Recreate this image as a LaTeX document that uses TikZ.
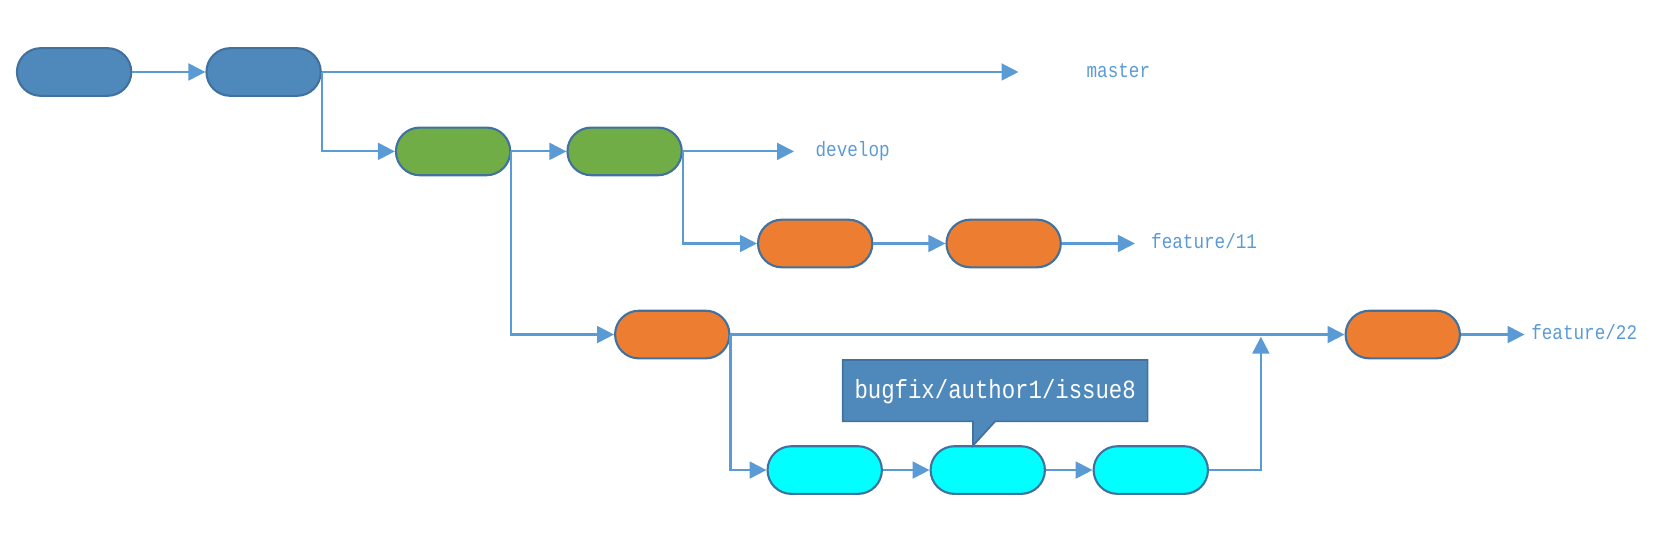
\documentclass[tikz,border=0pt]{standalone}
\usepackage{fontspec}
\newfontfamily\lblfont[FakeStretch=0.85]{Liberation Mono}
\usetikzlibrary{arrows.meta}
\definecolor{nblue}{HTML}{4F88BB}
\definecolor{nborder}{HTML}{41719C}
\definecolor{ngreen}{HTML}{70AD47}
\definecolor{norange}{HTML}{ED7D31}
\definecolor{ncyan}{HTML}{00FFFF}
\definecolor{lineblue}{HTML}{5B9BD5}
\tikzset{
  commit/.style={draw=nborder, line width=1pt, minimum width=54pt, minimum height=22.5pt, rounded corners=11.25pt, inner sep=0pt},
  conn/.style={draw=lineblue, line width=1pt, -{Triangle[length=8pt,width=8pt]}},
  plain/.style={draw=lineblue, line width=1pt},
  branchlbl/.style={anchor=base west, text=lineblue, font=\lblfont\fontsize{9.8pt}{11pt}\selectfont, inner sep=0pt},
}
\begin{document}
\begin{tikzpicture}[x=0.5pt,y=-0.5pt]
\useasboundingbox (0,0) rectangle (1568,509);
% commits
\node[commit, fill=nblue] (b1) at (70,68) {};
\node[commit, fill=nblue] (b2) at (249,68) {};
\node[commit, fill=ngreen] (g1) at (428,143) {};
\node[commit, fill=ngreen] (g2) at (590,143) {};
\node[commit, fill=norange] (o1) at (770,230) {};
\node[commit, fill=norange] (o2) at (948,230) {};
\node[commit, fill=norange] (o3) at (635,316) {};
\node[commit, fill=norange] (o4) at (1325,316) {};
\node[commit, fill=ncyan] (c1) at (779,444) {};
\node[commit, fill=ncyan] (c2) at (933,444) {};
\node[commit, fill=ncyan] (c3) at (1087,444) {};
% branch ends
\coordinate (mEnd) at (962,68);
\coordinate (dEnd) at (750,143);
\coordinate (f11End) at (1072,230);
\coordinate (f22End) at (1440,316);
\coordinate (mergeUp) at (1191,318);
% labels
\node[branchlbl] (lm) at (1026,73) {master};
\node[branchlbl] (ld) at (770,148) {develop};
\node[branchlbl] (lf11) at (1087,235) {feature/11};
\node[branchlbl] (lf22) at (1446,321) {feature/22};
% connectors
\draw[conn] (b1) -- (b2);
\draw[conn] (b2.east) -- (mEnd);
\draw[conn] (b2.east) |- (g1.west);
\draw[conn] (g1) -- (g2);
\draw[conn] (g2.east) -- (dEnd);
\draw[conn] (g2.east) |- (o1.west);
\draw[conn] (o1) -- (o2);
\draw[conn] (o2.east) -- (f11End);
\draw[conn] (g1.east) |- (o3.west);
\draw[conn] (o3.east) -- (o4.west);
\draw[conn] (o4.east) -- (f22End);
\draw[conn] (o3.east) |- (c1.west);
\draw[conn] (c1) -- (c2);
\draw[conn] (c2) -- (c3);
\draw[conn] (c3.east) -| (mergeUp);
% callout
\coordinate (k1) at (796,340);
\coordinate (k2) at (1084,340);
\coordinate (k3) at (1084,398);
\coordinate (k4) at (940,398);
\coordinate (k5) at (919,421);
\coordinate (k6) at (919,398);
\coordinate (k7) at (796,398);
\draw[draw=nborder, fill=nblue, line width=0.8pt] (k1) -- (k2) -- (k3) -- (k4) -- (k5) -- (k6) -- (k7) -- cycle;
\node[text=white, font=\lblfont\fontsize{12.4pt}{14pt}\selectfont, inner sep=0pt, anchor=base] (cb) at (940,376) {bugfix/author1/issue8};
\end{tikzpicture}
\end{document}
